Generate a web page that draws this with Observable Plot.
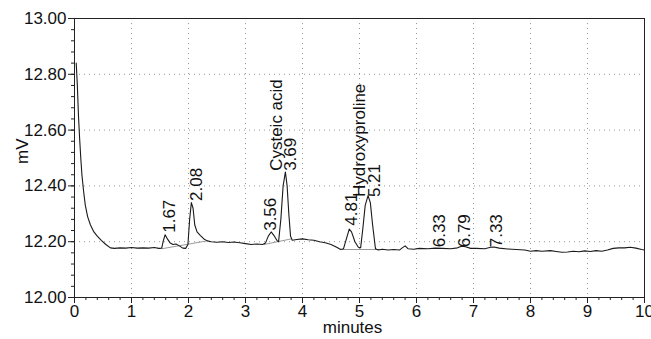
<!DOCTYPE html>
<html>
<head>
<meta charset="utf-8">
<script src="https://cdn.jsdelivr.net/npm/d3@7"></script>
<script src="https://cdn.jsdelivr.net/npm/@observablehq/plot@0.6"></script>
<style>
  html, body { margin: 0; padding: 0; background: #fff; }
</style>
</head>
<body>
<div id="chart"></div>
<script>
// Chromatogram trace: retention time (minutes) and signal (mV)
const traceT = [0.03,0.05,0.07,0.09,0.11,0.13,0.16,0.19,0.23,0.28,0.34,0.40,0.47,0.55,0.63,0.70,0.80,0.90,1.00,1.10,1.20,1.30,1.40,1.48,1.53,1.56,1.59,1.63,1.68,1.73,1.78,1.84,1.90,1.95,1.99,2.02,2.05,2.08,2.11,2.15,2.21,2.27,2.33,2.40,2.50,2.60,2.70,2.80,2.90,3.00,3.10,3.20,3.30,3.35,3.40,3.45,3.50,3.55,3.58,3.62,3.66,3.70,3.73,3.76,3.79,3.82,3.90,4.00,4.10,4.20,4.30,4.40,4.50,4.60,4.67,4.72,4.77,4.82,4.86,4.92,4.98,5.02,5.06,5.10,5.15,5.19,5.23,5.28,5.33,5.40,5.50,5.60,5.70,5.75,5.80,5.85,5.95,6.05,6.20,6.33,6.45,6.60,6.72,6.79,6.86,6.95,7.05,7.20,7.30,7.36,7.45,7.60,7.75,7.90,8.00,8.10,8.20,8.35,8.45,8.55,8.65,8.75,8.85,8.95,9.05,9.15,9.25,9.35,9.45,9.55,9.65,9.75,9.85,9.95,10.0];
const traceV = [12.84,12.76,12.65,12.57,12.50,12.44,12.38,12.33,12.29,12.26,12.235,12.22,12.205,12.19,12.178,12.176,12.178,12.177,12.179,12.177,12.178,12.177,12.179,12.176,12.177,12.205,12.225,12.21,12.195,12.19,12.192,12.185,12.177,12.176,12.19,12.28,12.34,12.32,12.26,12.235,12.222,12.21,12.203,12.2,12.198,12.2,12.197,12.199,12.196,12.193,12.19,12.192,12.19,12.195,12.22,12.235,12.222,12.205,12.2,12.28,12.40,12.45,12.40,12.30,12.22,12.205,12.208,12.21,12.207,12.205,12.2,12.196,12.19,12.18,12.172,12.175,12.21,12.245,12.235,12.2,12.18,12.178,12.25,12.33,12.365,12.34,12.26,12.175,12.17,12.173,12.17,12.172,12.17,12.178,12.185,12.175,12.173,12.176,12.175,12.177,12.176,12.175,12.178,12.184,12.182,12.176,12.176,12.175,12.18,12.181,12.177,12.174,12.172,12.17,12.166,12.168,12.166,12.168,12.165,12.162,12.163,12.166,12.164,12.167,12.165,12.168,12.166,12.17,12.176,12.178,12.178,12.18,12.177,12.172,12.17];

// Integration baselines (grey) under the peak groups
const baseSeg = ["a","a","b","b","c","c"];
const baseT   = [1.54, 2.33, 3.33, 3.80, 4.70, 5.35];
const baseV   = [12.175, 12.203, 12.19, 12.21, 12.172, 12.172];

// Peak annotations: text, anchor time and anchor level (bottom of text)
const peakText = ["1.67","2.08","3.56","Cysteic acid\n3.69","4.81","Hydroxyproline\n5.21","6.33","6.79","7.33"];
const peakT    = [1.68, 2.16, 3.46, 3.68, 4.88, 5.15, 6.42, 6.86, 7.42];
const peakV    = [12.232, 12.346, 12.239, 12.454, 12.257, 12.36, 12.18, 12.18, 12.18];

// Axis ticks
const xMajor = [0,1,2,3,4,5,6,7,8,9,10];
const xMinor = d3.range(0, 10.001, 0.2);
const yMajor = [12.0,12.2,12.4,12.6,12.8,13.0];
const yMinor = d3.range(12, 13.001, 0.04);
const xGrid = [1,2,3,4,5,6,7,8,9];
const yGrid = [12.2,12.4,12.6,12.8];

const trace = traceT.map((t, i) => ({t, v: traceV[i]}));
const bases = baseT.map((t, i) => ({t, v: baseV[i], s: baseSeg[i]}));
const peaks = peakText.map((s, i) => ({s, t: peakT[i], v: peakV[i]}));

const chart = Plot.plot({
  width: 651,
  height: 339,
  marginLeft: 74,
  marginRight: 7,
  marginTop: 18,
  marginBottom: 42,
  style: {fontFamily: "'Liberation Sans', Arial, sans-serif", fontSize: "17px", color: "#111", background: "#fff"},
  x: {domain: [0, 10]},
  y: {domain: [12, 13]},
  marks: [
    Plot.gridX(xGrid, {stroke: "#999", strokeOpacity: 1, strokeDasharray: "1,4"}),
    Plot.gridY(yGrid, {stroke: "#999", strokeOpacity: 1, strokeDasharray: "1,4"}),
    Plot.axisX(xMinor, {tickSize: 3, tickFormat: () => "", label: null, stroke: "#222"}),
    Plot.axisX(xMajor, {tickSize: 6, tickPadding: 1, tickFormat: d => String(d), label: null, stroke: "#222"}),
    Plot.axisY(yMinor, {tickSize: 3, tickFormat: () => "", label: null, stroke: "#222"}),
    Plot.axisY(yMajor, {tickSize: 6, tickPadding: 2, tickFormat: d => d.toFixed(2), label: null, stroke: "#222"}),
    Plot.frame({stroke: "#222"}),
    Plot.line(bases, {x: "t", y: "v", z: "s", stroke: "#9a9a9a", strokeWidth: 1}),
    Plot.line(trace, {x: "t", y: "v", stroke: "#1a1a1a", strokeWidth: 1.1}),
    Plot.text(peaks, {x: "t", y: "v", text: "s", rotate: -90, textAnchor: "start", lineAnchor: "middle", lineHeight: 0.85, fill: "#111"}),
    Plot.text(["mV"], {text: d => d, frameAnchor: "left", dx: -52, dy: 6, rotate: -90, fill: "#111"}),
    Plot.text(["minutes"], {text: d => d, frameAnchor: "bottom", dx: -7, dy: 35, fill: "#111"})
  ]
});
document.getElementById("chart").appendChild(chart);
</script>
</body>
</html>
